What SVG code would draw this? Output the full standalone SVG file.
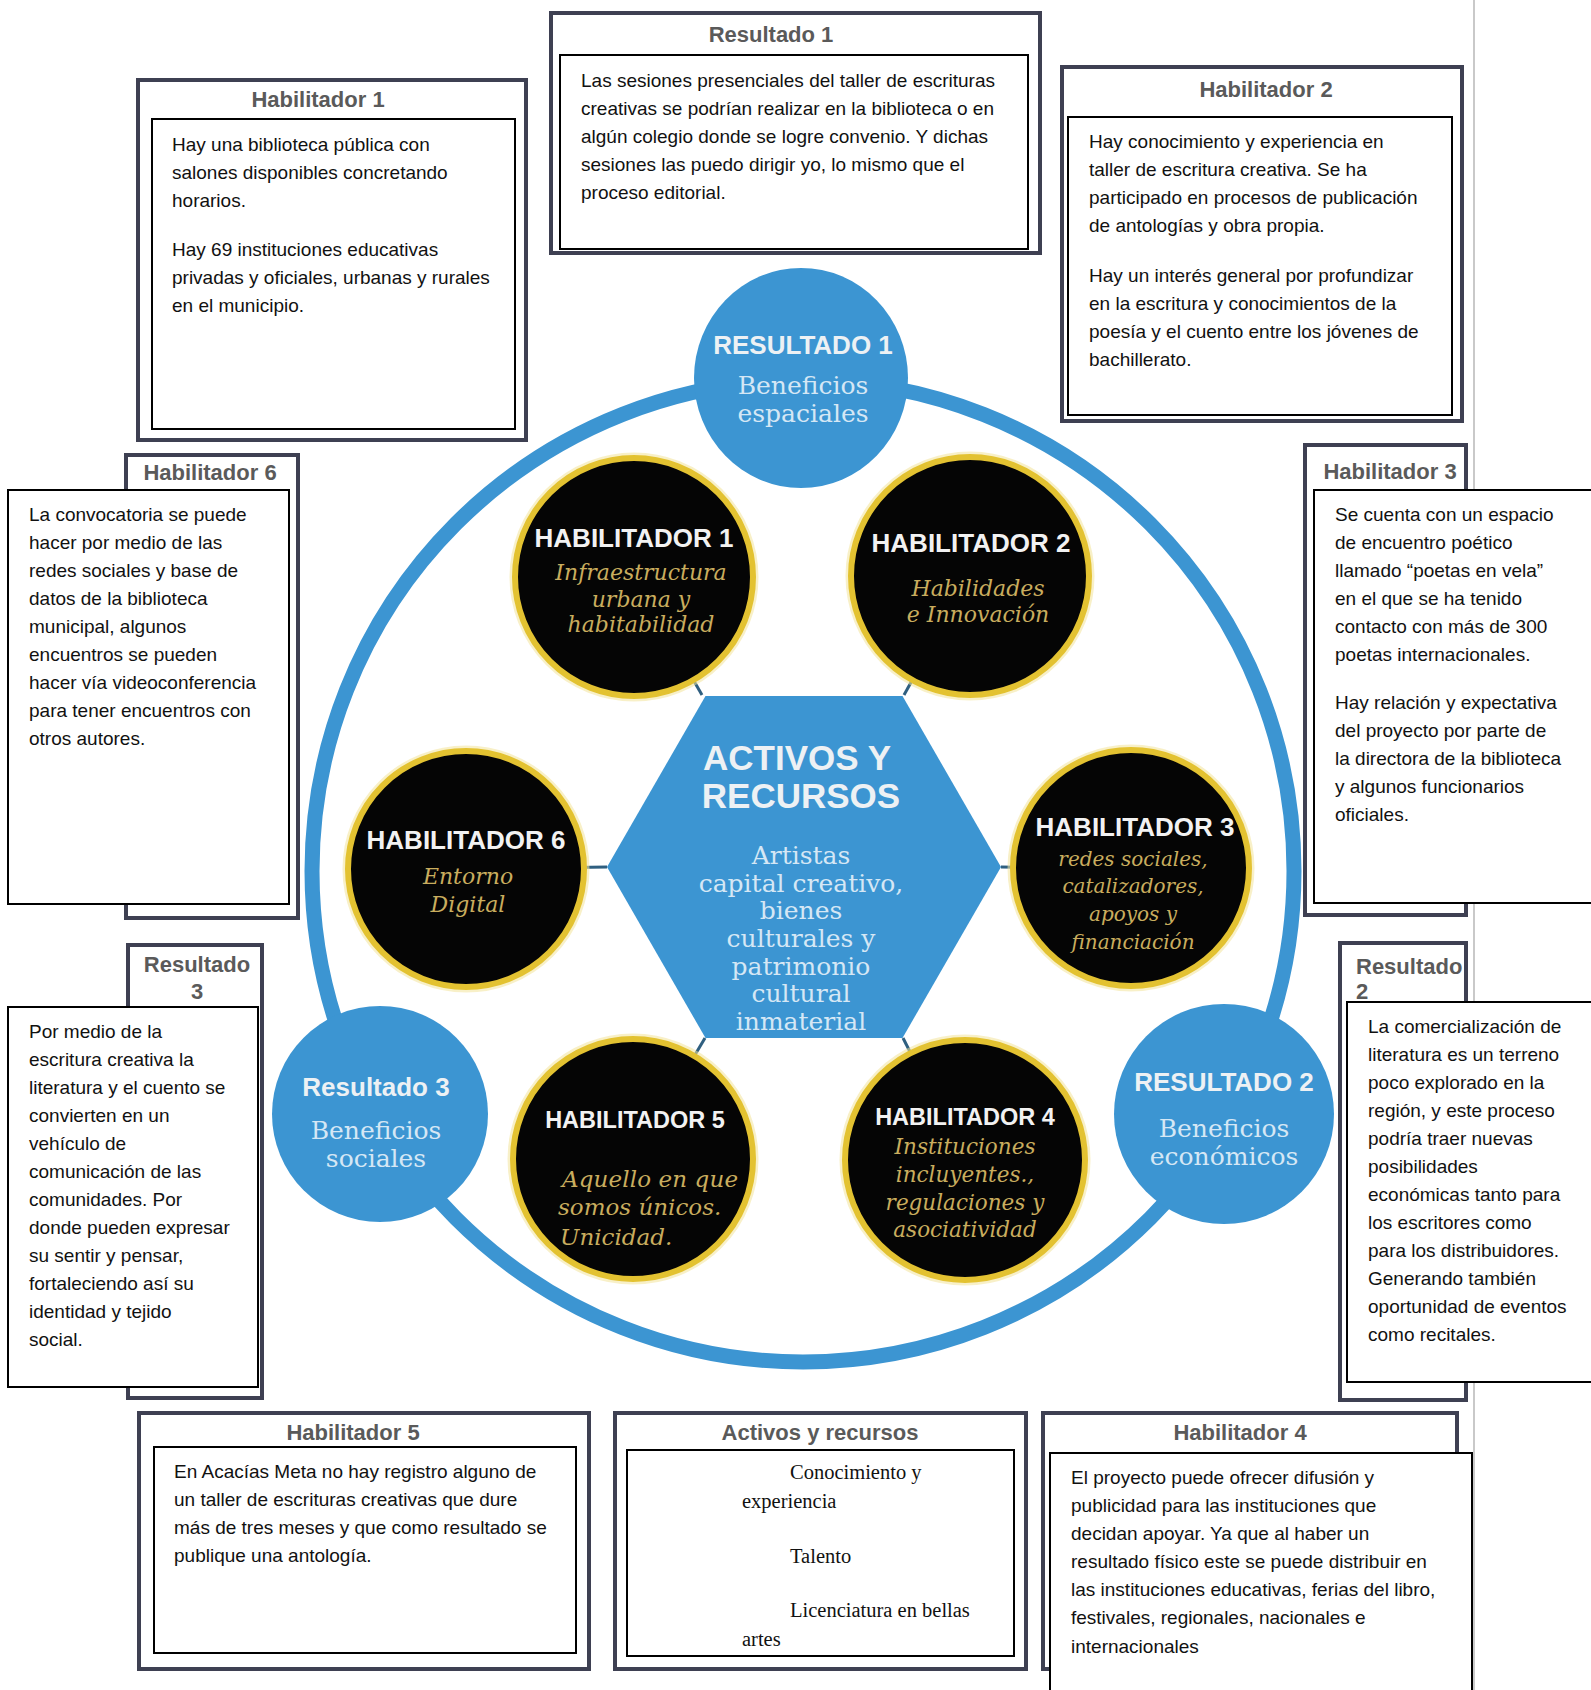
<svg xmlns="http://www.w3.org/2000/svg" width="1591" height="1690" viewBox="0 0 1591 1690">
<style>
.outer{fill:#fff;stroke:#3e4052;stroke-width:4}
.inner{fill:#fff;stroke:#000;stroke-width:2}
.hdr{font-family:"Liberation Sans",Arial,sans-serif;font-weight:bold;font-size:22px;fill:#5a5a5a}
.body{font-family:"Liberation Sans",Arial,sans-serif;font-size:19px;fill:#111}
.times{font-family:"Liberation Serif","Times New Roman",serif;font-size:20.5px;fill:#111}
.blue{fill:#3c95d2}
.rtitle{font-family:"Liberation Sans",Arial,sans-serif;font-weight:bold;font-size:26px;fill:#edf1f4;text-anchor:middle}
.rsub{font-family:"DejaVu Serif",serif;font-size:25px;fill:#d5e7f5;text-anchor:middle}
.glow{fill:none;stroke:#f3e39a;stroke-width:11;opacity:.55}
.hcirc{fill:#050505;stroke:#e3c231;stroke-width:6}
.htitle{font-family:"Liberation Sans",Arial,sans-serif;font-weight:bold;font-size:26px;fill:#f2f2f2;text-anchor:middle}
.hsub{font-family:"DejaVu Serif",serif;font-style:italic;font-size:22px;fill:#c9ad5e;text-anchor:middle}
.conn{stroke:#2f5f80;stroke-width:3;fill:none}
</style>

<line x1="1474" y1="0" x2="1474" y2="1690" stroke="#c9c9c9" stroke-width="2"/>

<!-- text boxes -->
<g id="box-habilitador1">
<rect class="outer" x="138" y="80" width="388" height="360"/>
<rect class="inner" x="152" y="119" width="363" height="310"/>
<text class="hdr" x="318" y="107" text-anchor="middle">Habilitador 1</text>
<text class="body"><tspan x="172" y="151">Hay una biblioteca pública con</tspan><tspan x="172" y="179">salones disponibles concretando</tspan><tspan x="172" y="207">horarios.</tspan><tspan x="172" y="256">Hay 69 instituciones educativas</tspan><tspan x="172" y="284">privadas y oficiales, urbanas y rurales</tspan><tspan x="172" y="312">en el municipio.</tspan></text>
</g>

<g id="box-resultado1">
<rect class="outer" x="551" y="13" width="489" height="240"/>
<rect class="inner" x="560" y="55" width="468" height="194"/>
<text class="hdr" x="771" y="42" text-anchor="middle">Resultado 1</text>
<text class="body"><tspan x="581" y="87">Las sesiones presenciales del taller de escrituras</tspan><tspan x="581" y="115">creativas se podrían realizar en la biblioteca o en</tspan><tspan x="581" y="143">algún colegio donde se logre convenio. Y dichas</tspan><tspan x="581" y="171">sesiones las puedo dirigir yo, lo mismo que el</tspan><tspan x="581" y="199">proceso editorial.</tspan></text>
</g>

<g id="box-habilitador2">
<rect class="outer" x="1062" y="67" width="400" height="354"/>
<rect class="inner" x="1068" y="117" width="384" height="298"/>
<text class="hdr" x="1266" y="97" text-anchor="middle">Habilitador 2</text>
<text class="body"><tspan x="1089" y="148">Hay conocimiento y experiencia en</tspan><tspan x="1089" y="176">taller de escritura creativa. Se ha</tspan><tspan x="1089" y="204">participado en procesos de publicación</tspan><tspan x="1089" y="232">de antologías y obra propia.</tspan><tspan x="1089" y="282">Hay un interés general por profundizar</tspan><tspan x="1089" y="310">en la escritura y conocimientos de la</tspan><tspan x="1089" y="338">poesía y el cuento entre los jóvenes de</tspan><tspan x="1089" y="366">bachillerato.</tspan></text>
</g>

<g id="box-habilitador6">
<rect class="outer" x="126" y="455" width="172" height="463"/>
<text class="hdr" x="210" y="480" text-anchor="middle">Habilitador 6</text>
<rect class="inner" x="8" y="490" width="281" height="414"/>
<text class="body"><tspan x="29" y="521">La convocatoria se puede</tspan><tspan x="29" y="549">hacer por medio de las</tspan><tspan x="29" y="577">redes sociales y base de</tspan><tspan x="29" y="605">datos de la biblioteca</tspan><tspan x="29" y="633">municipal, algunos</tspan><tspan x="29" y="661">encuentros se pueden</tspan><tspan x="29" y="689">hacer vía videoconferencia</tspan><tspan x="29" y="717">para tener encuentros con</tspan><tspan x="29" y="745">otros autores.</tspan></text>
</g>

<g id="box-habilitador3">
<rect class="outer" x="1305" y="445" width="161" height="470"/>
<text class="hdr" x="1390" y="479" text-anchor="middle">Habilitador 3</text>
<rect class="inner" x="1314" y="490" width="290" height="413"/>
<text class="body"><tspan x="1335" y="521">Se cuenta con un espacio</tspan><tspan x="1335" y="549">de encuentro poético</tspan><tspan x="1335" y="577">llamado “poetas en vela”</tspan><tspan x="1335" y="605">en el que se ha tenido</tspan><tspan x="1335" y="633">contacto con más de 300</tspan><tspan x="1335" y="661">poetas internacionales.</tspan><tspan x="1335" y="709">Hay relación y expectativa</tspan><tspan x="1335" y="737">del proyecto por parte de</tspan><tspan x="1335" y="765">la directora de la biblioteca</tspan><tspan x="1335" y="793">y algunos funcionarios</tspan><tspan x="1335" y="821">oficiales.</tspan></text>
</g>

<g id="box-resultado3">
<rect class="outer" x="128" y="945" width="134" height="453"/>
<text class="hdr" text-anchor="middle"><tspan x="197" y="972">Resultado</tspan><tspan x="197" y="999">3</tspan></text>
<rect class="inner" x="8" y="1007" width="250" height="380"/>
<text class="body"><tspan x="29" y="1038">Por medio de la</tspan><tspan x="29" y="1066">escritura creativa la</tspan><tspan x="29" y="1094">literatura y el cuento se</tspan><tspan x="29" y="1122">convierten en un</tspan><tspan x="29" y="1150">vehículo de</tspan><tspan x="29" y="1178">comunicación de las</tspan><tspan x="29" y="1206">comunidades. Por</tspan><tspan x="29" y="1234">donde pueden expresar</tspan><tspan x="29" y="1262">su sentir y pensar,</tspan><tspan x="29" y="1290">fortaleciendo así su</tspan><tspan x="29" y="1318">identidad y tejido</tspan><tspan x="29" y="1346">social.</tspan></text>
</g>

<g id="box-resultado2">
<rect class="outer" x="1340" y="943" width="126" height="457"/>
<text class="hdr"><tspan x="1356" y="974">Resultado</tspan><tspan x="1356" y="999">2</tspan></text>
<rect class="inner" x="1347" y="1002" width="260" height="380"/>
<text class="body"><tspan x="1368" y="1033">La comercialización de</tspan><tspan x="1368" y="1061">literatura es un terreno</tspan><tspan x="1368" y="1089">poco explorado en la</tspan><tspan x="1368" y="1117">región, y este proceso</tspan><tspan x="1368" y="1145">podría traer nuevas</tspan><tspan x="1368" y="1173">posibilidades</tspan><tspan x="1368" y="1201">económicas tanto para</tspan><tspan x="1368" y="1229">los escritores como</tspan><tspan x="1368" y="1257">para los distribuidores.</tspan><tspan x="1368" y="1285">Generando también</tspan><tspan x="1368" y="1313">oportunidad de eventos</tspan><tspan x="1368" y="1341">como recitales.</tspan></text>
</g>

<g id="box-habilitador5">
<rect class="outer" x="139" y="1413" width="450" height="256"/>
<rect class="inner" x="154" y="1447" width="422" height="206"/>
<text class="hdr" x="353" y="1440" text-anchor="middle">Habilitador 5</text>
<text class="body"><tspan x="174" y="1478">En Acacías Meta no hay registro alguno de</tspan><tspan x="174" y="1506">un taller de escrituras creativas que dure</tspan><tspan x="174" y="1534">más de tres meses y que como resultado se</tspan><tspan x="174" y="1562">publique una antología.</tspan></text>
</g>

<g id="box-activos">
<rect class="outer" x="615" y="1413" width="411" height="256"/>
<rect class="inner" x="627" y="1450" width="387" height="206"/>
<text class="hdr" x="820" y="1440" text-anchor="middle">Activos y recursos</text>
<text class="times"><tspan x="790" y="1479">Conocimiento y</tspan><tspan x="742" y="1508">experiencia</tspan><tspan x="790" y="1563">Talento</tspan><tspan x="790" y="1617">Licenciatura en bellas</tspan><tspan x="742" y="1646">artes</tspan></text>
</g>

<g id="box-habilitador4">
<rect class="outer" x="1043" y="1413" width="414" height="256"/>
<rect class="inner" x="1050" y="1453" width="422" height="260"/>
<text class="hdr" x="1240" y="1440" text-anchor="middle">Habilitador 4</text>
<text class="body"><tspan x="1071" y="1484">El proyecto puede ofrecer difusión y</tspan><tspan x="1071" y="1512">publicidad para las instituciones que</tspan><tspan x="1071" y="1540">decidan apoyar. Ya que al haber un</tspan><tspan x="1071" y="1568">resultado físico este se puede distribuir en</tspan><tspan x="1071" y="1596">las instituciones educativas, ferias del libro,</tspan><tspan x="1071" y="1624">festivales, regionales, nacionales e</tspan><tspan x="1071" y="1653">internacionales</tspan></text>
</g>

<!-- ring and connectors -->
<g id="connectors">
<circle cx="803" cy="871" r="491" fill="none" stroke="#3c95d2" stroke-width="15"/>
<line class="conn" x1="702" y1="695" x2="634" y2="577"/>
<line class="conn" x1="904" y1="695" x2="970" y2="576"/>
<line class="conn" x1="607" y1="867" x2="466" y2="869"/>
<line class="conn" x1="1001" y1="867" x2="1131" y2="868"/>
<line class="conn" x1="705" y1="1038" x2="633" y2="1159"/>
<line class="conn" x1="903" y1="1038" x2="965" y2="1160"/>
</g>

<g id="activos-recursos">
<polygon class="blue" points="607,867 705.5,696 902.5,696 1001,867 902.5,1038 705.5,1038"/>
<text class="rtitle" style="font-size:35px"><tspan x="797" y="770">ACTIVOS Y</tspan><tspan x="801" y="808">RECURSOS</tspan></text>
<text class="rsub"><tspan x="801" y="864">Artistas</tspan><tspan x="801" y="892">capital creativo,</tspan><tspan x="801" y="919">bienes</tspan><tspan x="801" y="947">culturales y</tspan><tspan x="801" y="975">patrimonio</tspan><tspan x="801" y="1002">cultural</tspan><tspan x="801" y="1030">inmaterial</tspan></text>
</g>

<g id="resultado1">
<ellipse class="blue" cx="801" cy="378" rx="107" ry="110"/>
<text class="rtitle" x="803" y="354">RESULTADO 1</text>
<text class="rsub"><tspan x="803" y="394">Beneficios</tspan><tspan x="803" y="421.5">espaciales</tspan></text>
</g>

<g id="resultado2">
<circle class="blue" cx="1224" cy="1114" r="110"/>
<text class="rtitle" x="1224" y="1091">RESULTADO 2</text>
<text class="rsub"><tspan x="1224" y="1137">Beneficios</tspan><tspan x="1224" y="1164.5">económicos</tspan></text>
</g>

<g id="resultado3">
<circle class="blue" cx="380" cy="1114" r="108"/>
<text class="rtitle" x="376" y="1096">Resultado 3</text>
<text class="rsub"><tspan x="376" y="1139">Beneficios</tspan><tspan x="376" y="1166.5">sociales</tspan></text>
</g>

<g id="habilitador1">
<circle class="glow" cx="634" cy="577" r="119"/>
<circle class="hcirc" cx="634" cy="577" r="119"/>
<text class="htitle" x="634" y="547">HABILITADOR 1</text>
<text class="hsub"><tspan x="641" y="580">Infraestructura</tspan><tspan x="641" y="607">urbana y</tspan><tspan x="641" y="632">habitabilidad</tspan></text>
</g>

<g id="habilitador2">
<circle class="glow" cx="970" cy="576" r="119"/>
<circle class="hcirc" cx="970" cy="576" r="119"/>
<text class="htitle" x="971" y="552">HABILITADOR 2</text>
<text class="hsub"><tspan x="978" y="596">Habilidades</tspan><tspan x="978" y="622">e Innovación</tspan></text>
</g>

<g id="habilitador6">
<circle class="glow" cx="466" cy="869" r="118"/>
<circle class="hcirc" cx="466" cy="869" r="118"/>
<text class="htitle" x="466" y="849">HABILITADOR 6</text>
<text class="hsub"><tspan x="468" y="884">Entorno</tspan><tspan x="468" y="912">Digital</tspan></text>
</g>

<g id="habilitador3">
<circle class="glow" cx="1131" cy="868" r="118"/>
<circle class="hcirc" cx="1131" cy="868" r="118"/>
<text class="htitle" x="1135" y="836">HABILITADOR 3</text>
<text class="hsub" style="font-size:20px"><tspan x="1133" y="866">redes sociales,</tspan><tspan x="1133" y="893">catalizadores,</tspan><tspan x="1133" y="921">apoyos y</tspan><tspan x="1133" y="949">financiación</tspan></text>
</g>

<g id="habilitador5">
<circle class="glow" cx="633" cy="1159" r="120"/>
<circle class="hcirc" cx="633" cy="1159" r="120"/>
<text class="htitle" x="635" y="1128" style="font-size:23.5px">HABILITADOR 5</text>
<text class="hsub" style="text-anchor:start;font-size:23px"><tspan x="562" y="1187" textLength="176" lengthAdjust="spacing">Aquello en que</tspan><tspan x="558" y="1215">somos únicos.</tspan><tspan x="560" y="1245">Unicidad.</tspan></text>
</g>

<g id="habilitador4">
<circle class="glow" cx="965" cy="1160" r="120"/>
<circle class="hcirc" cx="965" cy="1160" r="120"/>
<text class="htitle" x="965" y="1125" style="font-size:23.5px">HABILITADOR 4</text>
<text class="hsub" style="font-size:21.5px"><tspan x="965" y="1154">Instituciones</tspan><tspan x="965" y="1182">incluyentes.,</tspan><tspan x="965" y="1210">regulaciones y</tspan><tspan x="965" y="1237">asociatividad</tspan></text>
</g>
</svg>
